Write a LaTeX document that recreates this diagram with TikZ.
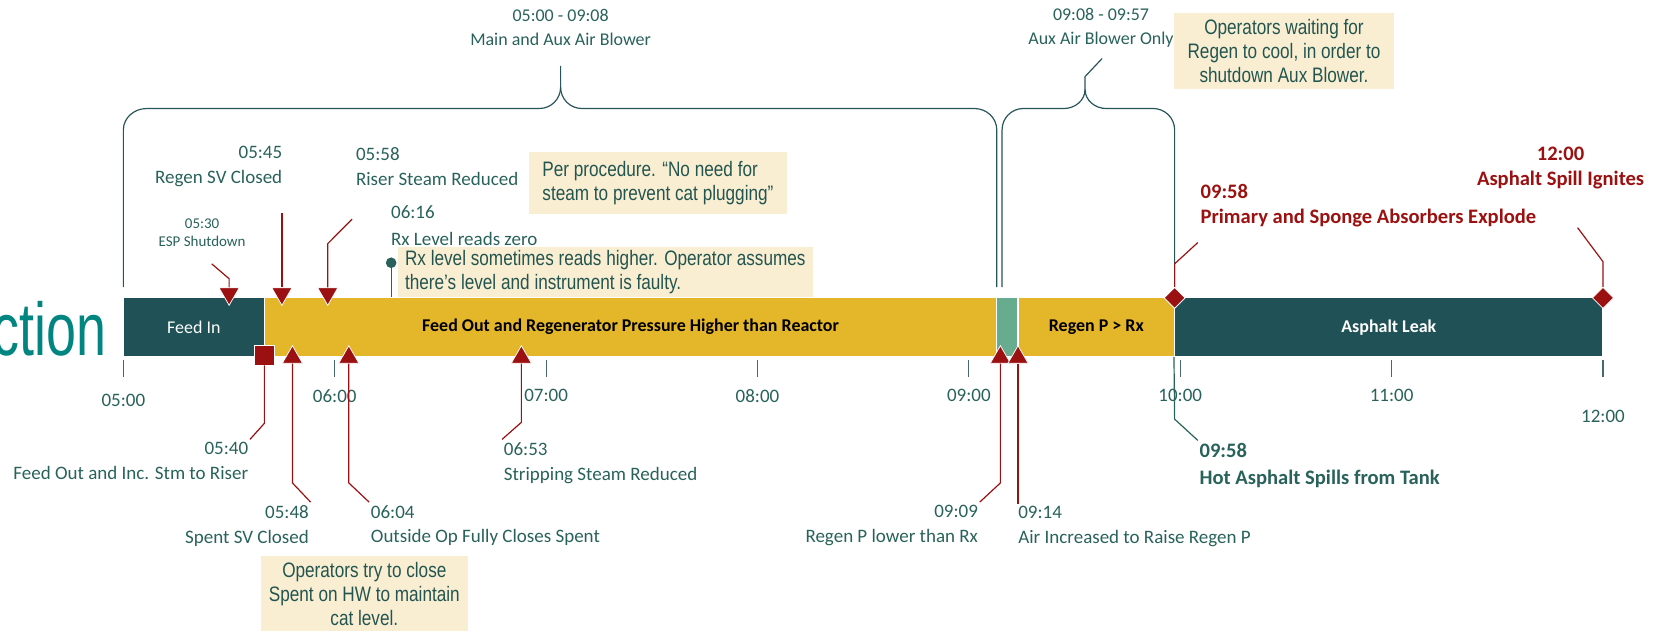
\documentclass[tikz,border=0pt]{standalone}
\usepackage{fontspec}
\setmainfont{Carlito}
\newfontfamily\notefont[FakeStretch=0.82]{Liberation Sans}
\newfontfamily\titlefont[FakeStretch=0.72]{Liberation Sans}
\usepackage{tikz}
\usetikzlibrary{positioning,shapes.geometric}
\usepackage{xcolor}
\definecolor{barteal}{RGB}{31,81,86}
\definecolor{bargold}{RGB}{228,182,42}
\definecolor{barmint}{RGB}{104,172,143}
\definecolor{evred}{RGB}{155,17,17}
\definecolor{txtgreen}{RGB}{40,98,90}
\definecolor{bracecol}{RGB}{40,85,90}
\definecolor{notefill}{RGB}{249,238,210}
\definecolor{notetext}{RGB}{35,85,80}
\definecolor{titleteal}{RGB}{0,133,128}
\definecolor{tickcol}{RGB}{70,105,110}

\begin{document}
\begin{tikzpicture}[x=0.025cm, y=-0.025cm, node distance=0.1cm]
\tikzset{
  phase/.style={draw=white, line width=0.8pt, minimum height=1.375cm, inner sep=0pt, font=\fontsize{12}{14}\selectfont},
  lbl/.style={text=txtgreen, inner sep=1pt, font=\fontsize{12.7}{16.5}\selectfont},
  lblbf/.style={inner sep=1pt, font=\fontsize{13.75}{17}\selectfont\bfseries},
  notebox/.style={fill=notefill, text=notetext, inner sep=0pt, font=\notefont\fontsize{14}{16}\selectfont},
  leadline/.style={draw=evred, line width=0.8pt},
  braceline/.style={draw=bracecol, line width=0.8pt},
  hourtick/.style={draw=tickcol, line width=0.8pt},
  mkdn/.style={regular polygon, regular polygon sides=3, shape border rotate=180, fill=evred, draw=white, line width=0.5pt, minimum size=0.55cm, inner sep=0pt},
  mkup/.style={regular polygon, regular polygon sides=3, fill=evred, draw=white, line width=0.5pt, minimum size=0.55cm, inner sep=0pt},
  mksq/.style={rectangle, fill=evred, draw=white, line width=0.5pt, minimum size=0.46cm, inner sep=0pt},
  mkdia/.style={diamond, fill=evred, draw=white, line width=0.5pt, minimum size=0.5cm, inner sep=0pt}
}
\useasboundingbox (0,0) rectangle (1568,595);

% cut-off title
\node[font=\titlefont\fontsize{50}{50}\selectfont, text=titleteal, anchor=base east, inner sep=0pt] (title) at (100,334) {ction};

% blower braces
\draw[braceline] (116,270) -- (116,122) to[out=90,in=180] (138,102) -- (507,102) to[out=0,in=-90] (527,82) -- (527,62);
\draw[braceline] (527,82) to[out=-90,in=180] (547,102) -- (916,102) to[out=0,in=90] (937,122) -- (937,270);
\draw[braceline] (942,270) -- (942,122) to[out=90,in=180] (962,102) -- (1000,102) to[out=0,in=-90] (1020,84) -- (1020,72) -- (1036,55);
\draw[braceline] (1020,84) to[out=-90,in=180] (1040,102) -- (1084,102) to[out=0,in=90] (1104.2,122) -- (1104.2,272);

% phases
\node[phase, fill=barteal, text=white, minimum width=3.3125cm] (feedin) at (182.25,307.5) {Feed In};
\node[phase, fill=bargold, minimum width=17.215cm, font=\fontsize{12}{14}\selectfont\bfseries] (feedout) at (592.8,307.5) {Feed Out and Regenerator Pressure Higher than Reactor};
\node[phase, fill=barmint, minimum width=0.4975cm] (aux) at (947.05,307.5) {};
\node[phase, fill=bargold, minimum width=3.68cm, font=\fontsize{12}{14}\selectfont\bfseries] (regenp) at (1030.6,307.5) {Regen P > Rx};
\node[phase, fill=barteal, text=white, minimum width=10.0675cm, font=\fontsize{12}{14}\selectfont\bfseries] (leak) at (1305.55,307.5) {Asphalt Leak};

% hour axis
\draw[hourtick] (116,338) -- (116,354);
\node[lbl] (h0) at (116,376) {05:00};
\foreach \i/\t in {1/06:00,2/07:00,3/08:00,4/09:00,5/10:00,6/11:00} {
  \draw[hourtick] (116+198.7*\i,338) -- (116+198.7*\i,354);
  \node[lbl] (h\i) at (116+198.7*\i,372) {\t};
}
\draw[hourtick] (1506.9,338) -- (1506.9,354);
\node[lbl] (h7) at (1506.9,391) {12:00};

% notes
\node[notebox, minimum width=6.075cm, minimum height=1.45cm, align=left] (nproc) at (618.5,172) {Per procedure. “No need for\\steam to prevent cat plugging”};
\node[notebox, minimum width=9.75cm, minimum height=1.175cm, align=left] (nrx) at (569,255.5) {Rx level sometimes reads higher. Operator assumes\\there’s level and instrument is faulty.};
\node[notebox, minimum width=5.15cm, minimum height=1.8cm, align=center] (nwait) at (1207,48) {Operators waiting for\\Regen to cool, in order to\\shutdown Aux Blower.};
\node[notebox, minimum width=4.875cm, minimum height=1.75cm, align=center] (nops) at (342.5,558) {Operators try to close\\Spent on HW to maintain\\cat level.};

% blower spans
\node[lbl, align=center, font=\fontsize{12}{16}\selectfont] (spanmain) at (527,26) {05:00 - 09:08\\Main and Aux Air Blower};
\node[lbl, align=center, font=\fontsize{12}{16}\selectfont] (spanaux) at (1035,26) {09:08 - 09:57\\Aux Air Blower Only};

% 06:16 reading
\node[circle, fill=txtgreen, minimum size=0.25cm, inner sep=0pt] (d0616) at (367.7,247) {};
\draw[txtgreen, line width=0.8pt] (d0616) -- (d0616 |- feedout.north);
\node[lbl, align=left, anchor=west] (l0616) at (366,212.5) {06:16\\[1.5pt]Rx Level reads zero};

% markers
\node[mkdn] (m0530) at (215.4,276) {};
\node[mkdn] (m0545) at (265,276) {};
\node[mkdn] (m0558) at (308.1,276) {};
\node[mksq] (m0540) at (248.5,334) {};
\node[mkup] (m0548) at (274.9,336) {};
\node[mkup] (m0604) at (327.9,336) {};
\node[mkup] (m0653) at (490.1,336) {};
\node[mkup] (m0909) at (940.4,336) {};
\node[mkup] (m0914) at (957,336) {};
\node[mkdia] (m0958) at (1104.2,280) {};
\node[mkdia] (m1200) at (1506.9,280) {};

% leaders above the bar
\coordinate (b0530) at (215.4,262);
\coordinate (e0530) at (199,248);
\coordinate (e0545) at (265,200);
\coordinate (b0558) at (308.1,229);
\coordinate (e0558) at (331,206);
\coordinate (b0958) at (1104.2,248);
\coordinate (e0958) at (1126,228);
\coordinate (b1200) at (1506.9,246);
\coordinate (e1200) at (1483,214);
\draw[leadline] (m0530) -- (b0530) -- (e0530);
\draw[leadline] (m0545) -- (e0545);
\draw[leadline] (m0558) -- (b0558) -- (e0558);
\draw[leadline] (m0958) -- (b0958) -- (e0958);
\draw[leadline] (m1200) -- (b1200) -- (e1200);

% leaders below the bar
\coordinate (b0540) at (248.5,398);
\coordinate (e0540) at (235,413);
\coordinate (b0548) at (274.9,454);
\coordinate (e0548) at (292,472);
\coordinate (b0604) at (327.9,454);
\coordinate (e0604) at (347,472);
\coordinate (b0653) at (490.1,397);
\coordinate (e0653) at (472,413);
\coordinate (b0909) at (940.4,454);
\coordinate (e0909) at (921,472);
\coordinate (e0914) at (957,474);
\coordinate (b0958h) at (1104.2,394);
\coordinate (e0958h) at (1126,414);
\draw[leadline] (m0540) -- (b0540) -- (e0540);
\draw[leadline] (m0548) -- (b0548) -- (e0548);
\draw[leadline] (m0604) -- (b0604) -- (e0604);
\draw[leadline] (m0653) -- (b0653) -- (e0653);
\draw[leadline] (m0909) -- (b0909) -- (e0909);
\draw[leadline] (m0914) -- (e0914);
\draw[txtgreen, line width=0.8pt] (leak.south west) -- (b0958h) -- (e0958h);

% event labels
\node[lbl, align=center, font=\fontsize{10}{12}\selectfont] (l0530) at (190,219) {05:30\\ESP Shutdown};
\node[lbl, align=right, anchor=east] (l0545) at (267,156.5) {05:45\\Regen SV Closed};
\node[lbl, align=left, anchor=west] (l0558) at (333,156.5) {05:58\\Riser Steam Reduced};
\node[lblbf, text=evred, align=left, anchor=west] (l0958) at (1127,193.5) {09:58\\Primary and Sponge Absorbers Explode};
\node[lblbf, text=evred, align=center] (l1200) at (1467,158) {12:00\\Asphalt Spill Ignites};
\node[lbl, align=right, below left=1pt and 0pt of e0540] (l0540) {05:40\\Feed Out and Inc. Stm to Riser};
\node[lbl, align=right, below left=1pt and 0pt of e0548] (l0548) {05:48\\Spent SV Closed};
\node[lbl, align=left, below right=1pt and 0pt of e0604] (l0604) {06:04\\Outside Op Fully Closes Spent};
\node[lbl, align=left, below right=1pt and 0pt of e0653] (l0653) {06:53\\Stripping Steam Reduced};
\node[lbl, align=right, below left=1pt and 0pt of e0909] (l0909) {09:09\\Regen P lower than Rx};
\node[lbl, align=left, below right=0pt and -1pt of e0914] (l0914) {09:14\\Air Increased to Raise Regen P};
\node[lblbf, text=txtgreen, align=left, below right=1pt and 0pt of e0958h] (l0958h) {09:58\\[1pt]Hot Asphalt Spills from Tank};
\end{tikzpicture}
\end{document}
